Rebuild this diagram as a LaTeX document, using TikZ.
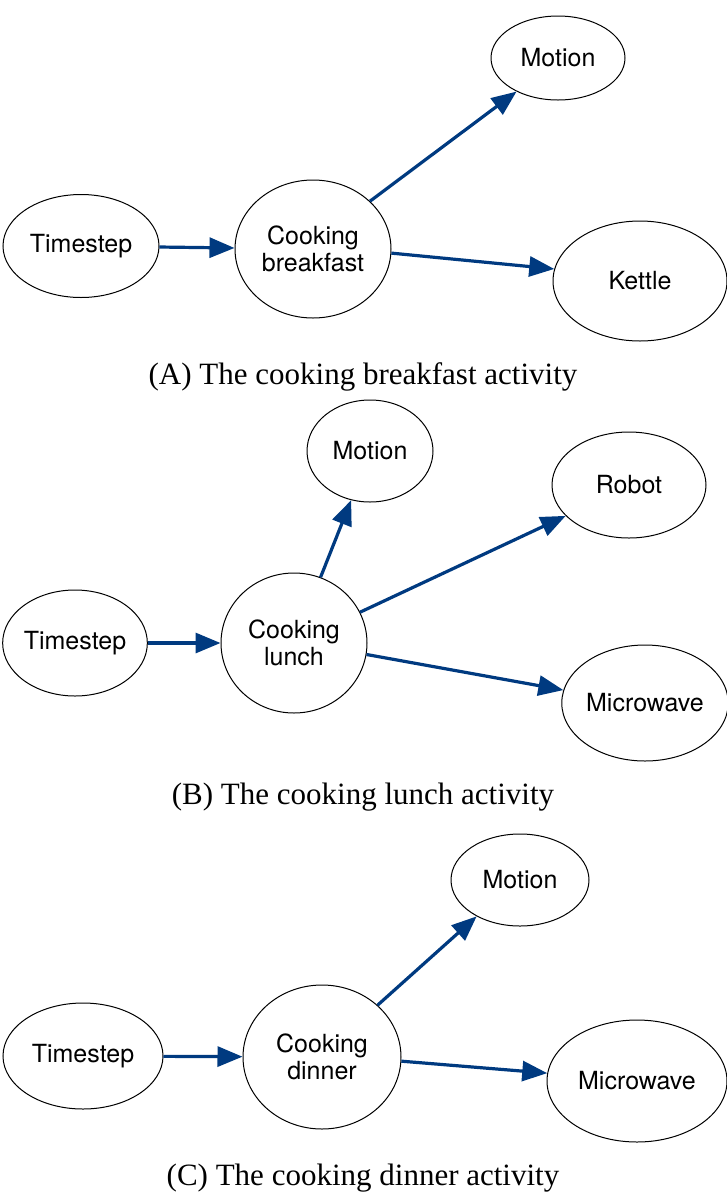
\documentclass[tikz,border=0pt]{standalone}
\usepackage{fontspec}
\setmainfont{Liberation Serif}
\newfontfamily\nodefont{TeX Gyre Heros}
\usetikzlibrary{arrows.meta,shapes.geometric}
\definecolor{arrblue}{HTML}{003A80}

\begin{document}
\begin{tikzpicture}[x=1pt,y=-1pt,
  state/.style={draw,ellipse,line width=1pt,inner sep=0pt,align=center,font=\nodefont\fontsize{25}{27}\selectfont},
  arr/.style={arrblue,line width=3.2pt,-{Triangle[length=25pt,width=20pt]}},
  captext/.style={font=\fontsize{31}{34}\selectfont}]
  \useasboundingbox (0,0) rectangle (727,1195);
  % (A) breakfast
  \node[state,minimum width=156pt,minimum height=103pt] (tsa) at (81,246) {Timestep};
  \node[state,minimum width=156pt,minimum height=138pt] (cb) at (313,249) {Cooking\\breakfast};
  \node[state,minimum width=134pt,minimum height=84pt] (moa) at (558,58) {Motion};
  \node[state,minimum width=174pt,minimum height=120pt] (ke) at (640,281) {Kettle};
  \draw[arr] (tsa) -- (cb);
  \draw[arr] (cb.40) -- (moa.-141);
  \draw[arr] (cb.-3) -- (ke.172);
  \node[captext] (capa) at (363,377) {(A) The cooking breakfast activity};
  % (B) lunch
  \node[state,minimum width=144pt,minimum height=106pt] (tsb) at (75,643) {Timestep};
  \node[state,minimum width=146pt,minimum height=140pt] (cl) at (294,643) {Cooking\\lunch};
  \node[state,minimum width=126pt,minimum height=102pt] (mob) at (370,451) {Motion};
  \node[state,minimum width=154pt,minimum height=106pt] (ro) at (629,485) {Robot};
  \node[state,minimum width=164pt,minimum height=116pt] (mwb) at (645,703) {Microwave};
  \draw[arr] (tsb) -- (cl);
  \draw[arr] (cl.68) -- (mob.-111);
  \draw[arr] (cl.25) -- (ro.206);
  \draw[arr] (cl.-9) -- (mwb.171);
  \node[captext] (capb) at (363,797) {(B) The cooking lunch activity};
  % (C) dinner
  \node[state,minimum width=160pt,minimum height=106pt] (tsc) at (83,1056) {Timestep};
  \node[state,minimum width=158pt,minimum height=144pt] (cd) at (322,1057) {Cooking\\dinner};
  \node[state,minimum width=138pt,minimum height=92pt] (moc) at (520,880) {Motion};
  \node[state,minimum width=180pt,minimum height=122pt] (mwc) at (637,1081) {Microwave};
  \draw[arr] (tsc) -- (cd);
  \draw[arr] (cd.43) -- (moc.220);
  \draw[arr] (cd.-3) -- (mwc.175);
  \node[captext] (capc) at (363,1178) {(C) The cooking dinner activity};
\end{tikzpicture}
\end{document}
